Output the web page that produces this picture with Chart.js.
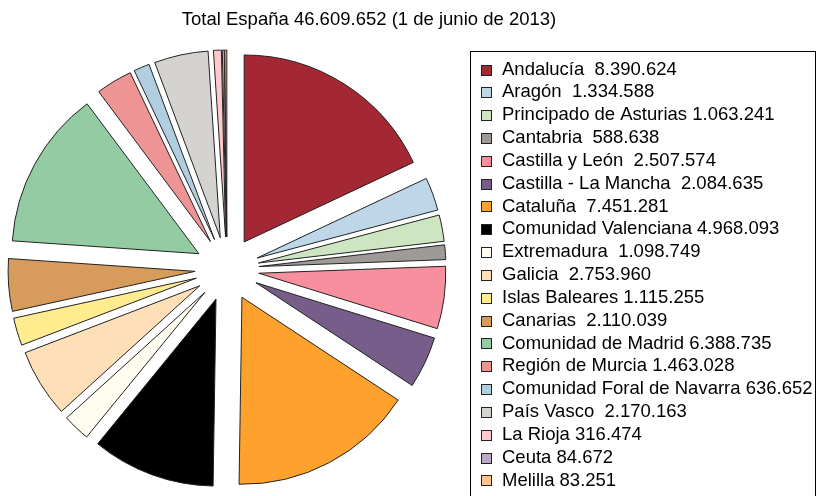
<!DOCTYPE html>
<html>
<head>
<meta charset="utf-8">
<script src="https://cdn.jsdelivr.net/npm/chart.js@4/dist/chart.umd.min.js"></script>
<style>
  html, body { margin: 0; padding: 0; background: #ffffff; }
  #wrap { width: 817px; height: 496px; position: relative; }
</style>
</head>
<body>
<div id="wrap"><canvas id="c" width="817" height="496"></canvas></div>
<script>
const titleText = "Total España 46.609.652 (1 de junio de 2013)";
const categories = ["Andalucía ", "Aragón ", "Principado de Asturias", "Cantabria ", "Castilla y León ",
  "Castilla - La Mancha ", "Cataluña ", "Comunidad Valenciana", "Extremadura ", "Galicia ",
  "Islas Baleares", "Canarias ", "Comunidad de Madrid", "Región de Murcia", "Comunidad Foral de Navarra",
  "País Vasco ", "La Rioja", "Ceuta", "Melilla"];
const population = [8390624, 1334588, 1063241, 588638, 2507574,
  2084635, 7451281, 4968093, 1098749, 2753960,
  1115255, 2110039, 6388735, 1463028, 636652,
  2170163, 316474, 84672, 83251];
const colors = ["#A32833", "#BDD7E8", "#CDE5C0", "#9E9A97", "#F88F9E",
  "#775E8A", "#FFA22D", "#000000", "#FFFDF0", "#FFDFB8",
  "#FFEC8F", "#D79C5C", "#93CCA3", "#EE9494", "#B1CDE0",
  "#D4D3CF", "#FFC8CC", "#BBA8C8", "#FFC38A"];

const EXPLODE = 32;
function fmt(n) { return String(n).replace(/\B(?=(\d{3})+(?!\d))/g, "."); }

const explodePlugin = {
  id: 'explode',
  beforeDatasetDraw(chart, args) {
    const ctx = chart.ctx;
    args.meta.data.forEach(arc => {
      const mid = (arc.startAngle + arc.endAngle) / 2;
      ctx.save();
      ctx.translate(Math.cos(mid) * EXPLODE, Math.sin(mid) * EXPLODE);
      arc.draw(ctx);
      ctx.restore();
    });
    return false;
  }
};

const decorPlugin = {
  id: 'decor',
  afterDraw(chart) {
    const ctx = chart.ctx;
    ctx.save();
    ctx.fillStyle = '#000';
    ctx.font = '18.5px "Liberation Sans", Arial, sans-serif';
    ctx.textAlign = 'center';
    ctx.textBaseline = 'middle';
    ctx.fillText(titleText, 369, 20);
    // legend frame
    ctx.strokeStyle = '#000';
    ctx.lineWidth = 1;
    ctx.strokeRect(470.5, 51.5, 345, 460);
    ctx.textAlign = 'left';
    const y0 = 69.5, dy = 22.83;
    categories.forEach((c, i) => {
      const y = y0 + i * dy;
      ctx.fillStyle = colors[i];
      ctx.fillRect(481, Math.round(y) - 5, 11, 11);
      ctx.strokeStyle = '#222';
      ctx.strokeRect(481.5, Math.round(y) - 4.5, 10, 10);
      ctx.fillStyle = '#000';
      ctx.fillText(c + " " + fmt(population[i]), 502, y);
    });
    ctx.restore();
  }
};

new Chart(document.getElementById('c'), {
  type: 'pie',
  data: {
    labels: categories,
    datasets: [{
      data: population,
      backgroundColor: colors,
      borderColor: '#222',
      borderWidth: 1,
      borderJoinStyle: 'miter',
      radius: 187
    }]
  },
  options: {
    responsive: false,
    animation: false,
    events: [],
    layout: { padding: { left: 0, right: 363, top: 42, bottom: 0 } },
    plugins: {
      legend: { display: false },
      title: { display: false },
      tooltip: { enabled: false }
    }
  },
  plugins: [explodePlugin, decorPlugin]
});
</script>
</body>
</html>
